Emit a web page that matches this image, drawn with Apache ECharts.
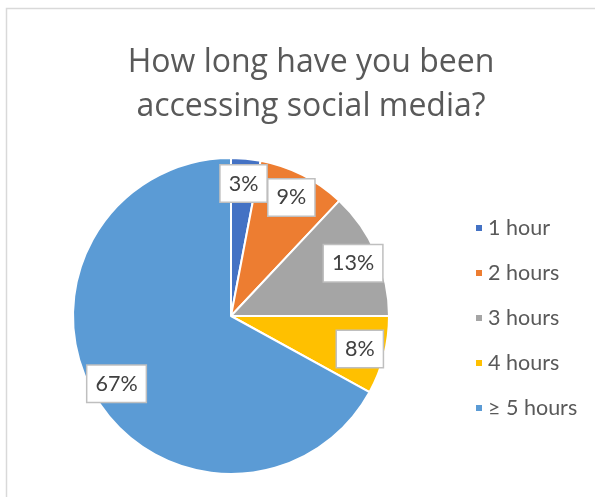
<!DOCTYPE html>
<html>
<head>
<meta charset="utf-8">
<script src="https://cdn.jsdelivr.net/npm/echarts@6/dist/echarts.min.js"></script>
<style>
html,body{margin:0;padding:0;background:#fff;}
#chart{width:595px;height:497px;}
</style>
</head>
<body>
<div id="chart"></div>
<script>
var titleText = "How long have you been\naccessing social media?";
var categories = ["1 hour", "2 hours", "3 hours", "4 hours", "\u2265 5 hours"];
var values = [3, 9, 13, 8, 67];
var colors = ["#4472C4", "#ED7D31", "#A5A5A5", "#FFC000", "#5B9BD5"];

var pieData = categories.map(function (c, i) {
  return { name: c, value: values[i], itemStyle: { color: colors[i] } };
});
var labelData = categories.map(function (c, i) {
  return { name: c, value: values[i] };
});
var legendData = categories.map(function (c, i) {
  return { name: c, itemStyle: { color: colors[i] } };
});

var chart = echarts.init(document.getElementById('chart'), null, { renderer: 'canvas' });
chart.setOption({
  backgroundColor: '#ffffff',
  animation: false,
  graphic: [{
    type: 'rect',
    shape: { x: 6.5, y: 8.5, width: 700, height: 600 },
    style: { fill: 'none', stroke: '#d9d9d9', lineWidth: 1.5 },
    silent: true
  }],
  title: {
    text: titleText,
    left: 306,
    top: 36,
    textAlign: 'center',
    textStyle: {
      fontFamily: 'Open Sans',
      fontSize: 32,
      fontWeight: 'normal',
      color: '#595959',
      lineHeight: 44
    }
  },
  legend: {
    orient: 'vertical',
    left: 469,
    top: 211,
    itemWidth: 8,
    itemHeight: 8,
    itemGap: 21,
    icon: 'rect',
    data: legendData,
    textStyle: {
      fontFamily: 'Lato',
      fontSize: 21.5,
      color: '#595959',
      lineHeight: 24
    }
  },
  series: [{
    type: 'pie',
    center: [231, 316],
    radius: [0, 158],
    startAngle: 90,
    clockwise: true,
    data: pieData,
    label: { show: false },
    labelLine: { show: false },
    itemStyle: { borderColor: '#ffffff', borderWidth: 2 },
    silent: true
  }, {
    type: 'pie',
    center: [231, 316],
    radius: [102, 158],
    startAngle: 90,
    clockwise: true,
    data: labelData,
    silent: true,
    itemStyle: { color: 'rgba(0,0,0,0)', borderWidth: 0 },
    avoidLabelOverlap: false,
    labelLine: { show: false },
    labelLayout: { hideOverlap: false },
    label: {
      show: true,
      position: 'inside',
      formatter: '{d}%',
      fontFamily: 'Lato',
      fontSize: 21.5,
      color: '#404040',
      backgroundColor: '#ffffff',
      borderColor: '#bfbfbf',
      borderWidth: 1.5,
      padding: [8, 8, 6, 8]
    }
  }]
});
</script>
</body>
</html>
